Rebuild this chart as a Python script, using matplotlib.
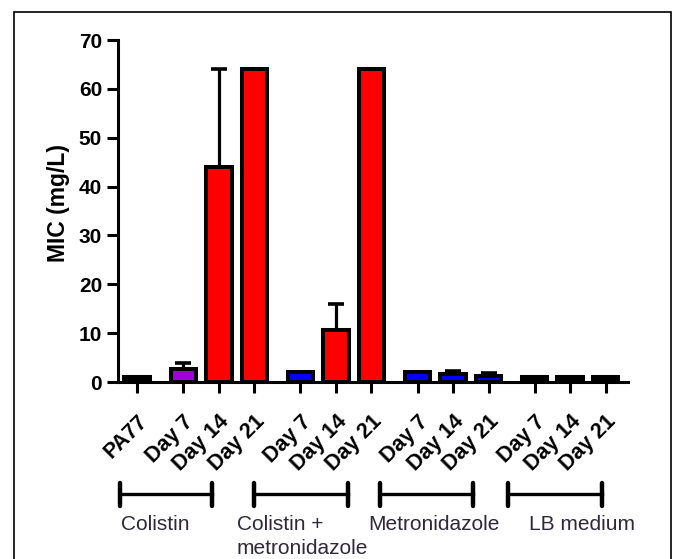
import matplotlib
matplotlib.use('Agg')
import matplotlib.pyplot as plt
from matplotlib.patches import Rectangle
from matplotlib.lines import Line2D
from matplotlib.transforms import ScaledTranslation
import numpy as np

plt.rcParams['font.family'] = ['Liberation Sans', 'DejaVu Sans']

# data
LABELS = ['PA77', 'Day 7', 'Day 14', 'Day 21', 'Day 7', 'Day 14', 'Day 21',
          'Day 7', 'Day 14', 'Day 21', 'Day 7', 'Day 14', 'Day 21']
GROUP_SIZES = [1, 3, 3, 3, 3]
MIC = [1, 2.67, 44, 64, 2, 10.67, 64, 2, 1.67, 1.33, 1, 1, 1]
ERR = [0, 1.15, 20, 0, 0, 5.33, 0, 0, 0.58, 0.58, 0, 0, 0]
COLORS = ['black', '#a000e0', '#ff0000', '#ff0000', '#0000ff', '#ff0000', '#ff0000',
          '#0000ff', '#0000ff', '#0000ff', 'black', 'black', 'black']
GROUP_NAMES = ['Colistin', 'Colistin +\nmetronidazole', 'Metronidazole', 'LB medium']

W, H = 673, 559

# bar positions: step 1 inside a group, 1.3 between groups
pos = []
x = 0.0
for g, n in enumerate(GROUP_SIZES):
    if g > 0:
        x += 0.3
    for i in range(n):
        pos.append(x)
        x += 1
pos = np.array(pos)

fig = plt.figure(figsize=(W / 100, H / 100), dpi=100)
ax = fig.add_axes([118 / W, 1 - 382 / H, (628 - 118) / W, (382 - 40) / H])

ax.bar(pos, MIC, width=0.72, color=COLORS, edgecolor='black', linewidth=2.9, zorder=3)
ax.errorbar(pos, MIC, yerr=[np.zeros(len(ERR)), ERR], fmt='none', ecolor='black',
            elinewidth=2.3, capsize=5.5, capthick=2.6, zorder=2)

ax.set_ylim(0, 70)
ax.set_xlim(-0.54, 13.83)
ax.set_yticks(range(0, 71, 10))
ax.set_xticks(pos)
ax.set_xticklabels(LABELS, rotation=45, ha='right', va='top', rotation_mode='anchor',
                   fontsize=15.5, fontweight='bold')
shift = ScaledTranslation(3 / 100, 0, fig.dpi_scale_trans)
for lab in ax.get_xticklabels():
    lab.set_transform(lab.get_transform() + shift)
for lab in ax.get_yticklabels():
    lab.set_fontsize(15)
    lab.set_fontweight('bold')

for s in ['top', 'right']:
    ax.spines[s].set_visible(False)
for s in ['left', 'bottom']:
    ax.spines[s].set_linewidth(2.2)
ax.tick_params(axis='both', length=8, width=2.2, direction='out')
ax.tick_params(axis='y', pad=3.5)
ax.tick_params(axis='x', pad=13)

fig.text(58 / W, 1 - 203 / H, 'MIC (mg/L)', rotation=90, ha='center', va='center',
         fontsize=16.5, fontweight='bold')

# group brackets and names (pixel positions of the pasted annotation)
brackets = [(120, 212), (254, 348), (380, 473), (508, 602)]
text_x = [121, 237, 368, 529]
for (x0, x1), tx, name in zip(brackets, text_x, GROUP_NAMES):
    yb = 1 - 494 / H
    fig.add_artist(Line2D([x0 / W, x1 / W], [yb, yb], color='black', lw=2.4))
    for xe in (x0, x1):
        fig.add_artist(Line2D([xe / W, xe / W], [1 - 483 / H, 1 - 506 / H],
                              color='black', lw=3.2, solid_capstyle='round'))
    for k, line in enumerate(name.split('\n')):
        fig.text(tx / W, 1 - (530 + 24 * k) / H, line, ha='left', va='baseline',
                 fontsize=15, color='#2e2838')

# outer frame
fig.add_artist(Rectangle((14 / W, -0.05), (671 - 14) / W, 1.05 - 12 / H,
                         transform=fig.transFigure, fill=False, edgecolor='black', lw=1.2))

fig.savefig('out.png', dpi=100)
